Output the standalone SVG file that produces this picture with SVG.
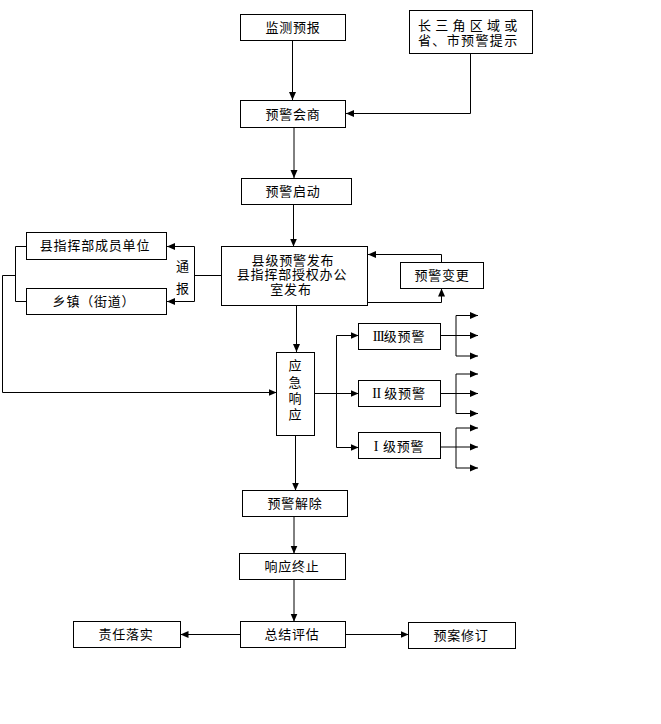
<svg xmlns="http://www.w3.org/2000/svg" width="661" height="724" viewBox="0 0 661 724">
<style>
  .box { fill: #ffffff; stroke: #000000; stroke-width: 1; }
  .t { font-family: "Noto Sans CJK SC", "Noto Sans CJK JP", sans-serif; font-size: 13px; fill: #000000; text-anchor: middle; letter-spacing: 0.8px; }
  .rn { font-family: "Liberation Serif", serif; font-size: 14px; }
  .ln { fill: none; stroke: #000000; stroke-width: 1; }
  .la { fill: none; stroke: #000000; stroke-width: 1; marker-end: url(#ah); }
</style>
<defs>
  <marker id="ah" markerWidth="9" markerHeight="8" refX="8" refY="4" orient="auto" markerUnits="userSpaceOnUse">
    <path d="M0,0.5 L8,4 L0,7.5 Z" fill="#000000"/>
  </marker>
</defs>
<rect width="661" height="724" fill="#ffffff"/>

<g id="connectors">
  <path class="la" d="M292.5,40 V100"/>
  <path class="la" d="M470.5,53 V113.5 H346"/>
  <path class="la" d="M294,127 V178"/>
  <path class="la" d="M293.5,204 V246.5"/>
  <path class="la" d="M296.5,306 V352"/>
  <path class="ln" d="M221.5,275.5 H194.5 M194.5,246.5 V301.5"/>
  <path class="la" d="M194.5,246.5 H167"/>
  <path class="la" d="M194.5,301.5 H167"/>
  <path class="ln" d="M26.5,246.5 H15.5 V301.5 H26.5"/>
  <path class="la" d="M15.5,275.5 H2.5 V392.5 H276.5"/>
  <path class="la" d="M441.5,262.5 V254.5 H368"/>
  <path class="la" d="M367.5,302.5 H441.5 V288.5"/>
  <path class="ln" d="M314.5,393.5 H336.5 M336.5,335.5 V447.5"/>
  <path class="la" d="M336.5,335.5 H358.5"/>
  <path class="la" d="M336.5,393.5 H358.5"/>
  <path class="la" d="M336.5,447.5 H358.5"/>
  <path class="ln" d="M440.5,335.5 H456 M456,315.5 V356"/>
  <path class="la" d="M456,315.5 H478"/>
  <path class="la" d="M456,335.5 H478"/>
  <path class="la" d="M456,356 H478"/>
  <path class="ln" d="M440.5,393.5 H456 M456,374 V413.5"/>
  <path class="la" d="M456,374 H478"/>
  <path class="la" d="M456,393.5 H478"/>
  <path class="la" d="M456,413.5 H478"/>
  <path class="ln" d="M440.5,447 H456 M456,428 V468"/>
  <path class="la" d="M456,428 H478"/>
  <path class="la" d="M456,447 H478"/>
  <path class="la" d="M456,468 H478"/>
  <path class="la" d="M295.5,435.5 V490.5"/>
  <path class="la" d="M294,516.5 V553.5"/>
  <path class="la" d="M294,579.5 V621.5"/>
  <path class="la" d="M240.5,634.5 H180.5"/>
  <path class="la" d="M345.5,634.5 H408.5"/>
</g>

<g id="n-jiance">
  <rect class="box" x="240.5" y="14.5" width="105" height="26"/>
  <text class="t" x="293" y="32">监测预报</text>
</g>
<g id="n-csj">
  <rect class="box" x="409.5" y="10.5" width="123" height="43"/>
  <text class="t" x="418" y="30" style="text-anchor:start" textLength="100" lengthAdjust="spacing">长三角区域或</text>
  <text class="t" x="418" y="45" style="text-anchor:start" textLength="100" lengthAdjust="spacing">省、市预警提示</text>
</g>
<g id="n-huishang">
  <rect class="box" x="240.5" y="100.5" width="105" height="27"/>
  <text class="t" x="293" y="118.5">预警会商</text>
</g>
<g id="n-qidong">
  <rect class="box" x="241.5" y="178.5" width="110" height="26"/>
  <text class="t" x="293" y="196">预警启动</text>
</g>
<g id="n-fabu">
  <rect class="box" x="221.5" y="246.5" width="146" height="59"/>
  <text class="t" x="293" y="264.5">县级预警发布</text>
  <text class="t" x="292" y="278.5">县指挥部授权办公</text>
  <text class="t" x="291" y="294">室发布</text>
</g>
<g id="n-biangeng">
  <rect class="box" x="400.5" y="262.5" width="83" height="26"/>
  <text class="t" x="442" y="280">预警变更</text>
</g>
<g id="n-chengyuan">
  <rect class="box" x="26.5" y="232.5" width="140" height="27"/>
  <text class="t" x="95" y="250">县指挥部成员单位</text>
</g>
<g id="n-xiangzhen">
  <rect class="box" x="26.5" y="288.5" width="140" height="26"/>
  <text class="t" x="94" y="305.5">乡镇（街道）</text>
</g>
<g id="l-tongbao">
  <text class="t" x="183" y="271">通</text>
  <text class="t" x="183" y="292.5">报</text>
</g>
<g id="n-yingji">
  <rect class="box" x="276.5" y="352.5" width="38" height="83"/>
  <text class="t" x="295.5" y="370">应</text>
  <text class="t" x="295.5" y="387">急</text>
  <text class="t" x="295.5" y="403">响</text>
  <text class="t" x="295.5" y="419">应</text>
</g>
<g id="n-lv3">
  <rect class="box" x="358.5" y="323.5" width="82" height="26"/>
  <text class="t" x="399" y="341"><tspan class="rn" letter-spacing="-1">III</tspan>级预警</text>
</g>
<g id="n-lv2">
  <rect class="box" x="358.5" y="380.5" width="82" height="26"/>
  <text class="t" x="399" y="398"><tspan class="rn" letter-spacing="-0.5">II</tspan> 级预警</text>
</g>
<g id="n-lv1">
  <rect class="box" x="358.5" y="432.5" width="82" height="26"/>
  <text class="t" x="399" y="450.5"><tspan class="rn" font-size="15">I</tspan> 级预警</text>
</g>
<g id="n-jiechu">
  <rect class="box" x="242.5" y="490.5" width="105" height="26"/>
  <text class="t" x="295" y="508">预警解除</text>
</g>
<g id="n-zhongzhi">
  <rect class="box" x="239.5" y="553.5" width="106" height="26"/>
  <text class="t" x="292" y="571">响应终止</text>
</g>
<g id="n-zongjie">
  <rect class="box" x="240.5" y="621.5" width="105" height="26"/>
  <text class="t" x="292" y="639">总结评估</text>
</g>
<g id="n-zeren">
  <rect class="box" x="73.5" y="621.5" width="107" height="26"/>
  <text class="t" x="126" y="639">责任落实</text>
</g>
<g id="n-xiuding">
  <rect class="box" x="408.5" y="622.5" width="107" height="26"/>
  <text class="t" x="461" y="640">预案修订</text>
</g>
</svg>
